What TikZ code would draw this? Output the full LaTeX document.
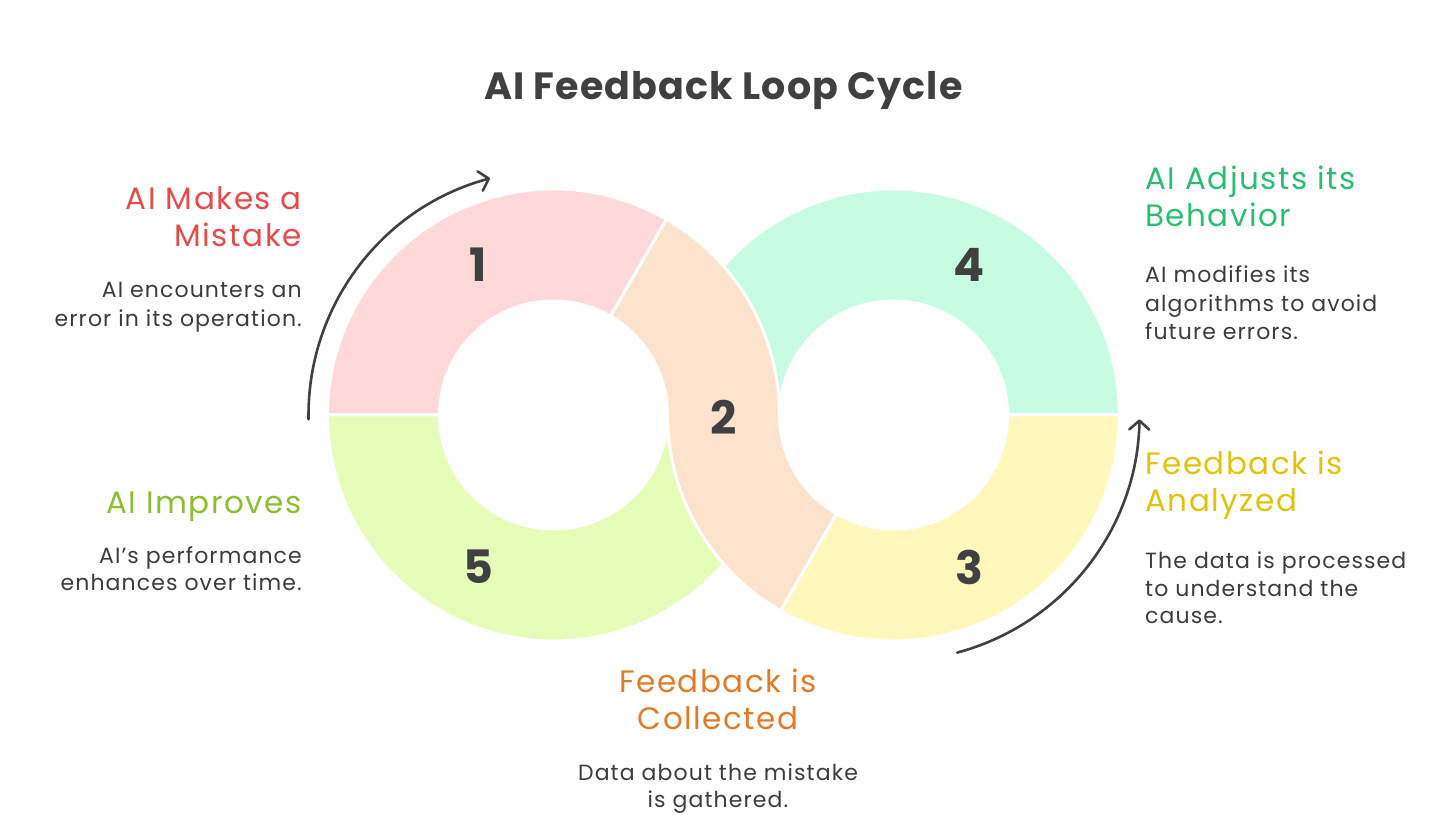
\documentclass[tikz,border=0pt]{standalone}
\usepackage{fontspec}
\setmainfont{Poppins}
\usetikzlibrary{arrows.meta,calc}
\definecolor{pk}{RGB}{255,217,217}
\definecolor{pe}{RGB}{253,226,204}
\definecolor{mi}{RGB}{199,252,227}
\definecolor{ye}{RGB}{255,247,187}
\definecolor{li}{RGB}{230,252,185}
\definecolor{tred}{RGB}{228,76,76}
\definecolor{tgreen}{RGB}{44,190,112}
\definecolor{tlime}{RGB}{140,190,50}
\definecolor{tyel}{RGB}{222,196,12}
\definecolor{torange}{RGB}{224,124,40}
\definecolor{bodyc}{RGB}{60,60,60}
\definecolor{darkc}{RGB}{64,64,64}
\begin{document}
\begin{tikzpicture}[x=1pt,y=1pt,
  seg/.style={draw=white, line width=3pt, line join=round},
  arr/.style={draw=darkc, line width=2.6pt, line cap=round, -{Straight Barb[length=9pt,width=20pt,round]}},
  ttl/.style={font=\bfseries\fontsize{38}{42}\selectfont\addfontfeatures{LetterSpace=3}, text=darkc, inner sep=0pt, anchor=base},
  hd/.style={font=\fontsize{31}{36}\selectfont\addfontfeatures{LetterSpace=5}, inner sep=0pt},
  bd/.style={font=\fontsize{22}{28}\selectfont\addfontfeatures{LetterSpace=5}, text=bodyc, inner sep=0pt},
  num/.style={font=\bfseries\fontsize{46}{50}\selectfont, text=darkc, inner sep=0pt}]
\useasboundingbox (0,0) rectangle (1456,839);
\coordinate (L) at (553.5,424);
\coordinate (R) at (893.5,424);
% segment 1
\path[seg, fill=pk] ($(L)+(60:114)$) -- ($(L)+(60:226)$) arc[start angle=60, end angle=180, radius=226pt]
  -- ($(L)+(180:114)$) arc[start angle=180, end angle=60, radius=114pt] -- cycle;
% segment 5
\path[seg, fill=li] ($(L)+(180:226)$) arc[start angle=180, end angle=360, radius=226pt]
  -- ($(L)+(0:114)$) arc[start angle=360, end angle=180, radius=114pt] -- cycle;
% segment 4
\path[seg, fill=mi] ($(R)+(0:226)$) arc[start angle=0, end angle=180, radius=226pt]
  -- ($(R)+(180:114)$) arc[start angle=180, end angle=0, radius=114pt] -- cycle;
% segment 3
\path[seg, fill=ye] ($(R)+(240:226)$) arc[start angle=240, end angle=360, radius=226pt]
  -- ($(R)+(0:114)$) arc[start angle=360, end angle=240, radius=114pt] -- cycle;
% segment 2
\path[seg, fill=pe] ($(L)+(60:114)$) arc[start angle=60, end angle=0, radius=114pt]
  arc[start angle=180, end angle=240, radius=226pt]
  -- ($(R)+(240:114)$) arc[start angle=240, end angle=180, radius=114pt]
  arc[start angle=0, end angle=60, radius=226pt] -- cycle;
% arrows
\draw[arr] ($(L)+(181:245)$) arc[start angle=181, end angle=105, radius=245pt];
\draw[arr] ($(R)+(-75:246)$) arc[start angle=-75, end angle=-1, radius=246pt];
% numbers
\node[num] (n1) at (478,574) {1};
\node[num] (n2) at (724,422) {2};
\node[num] (n3) at (969,272) {3};
\node[num] (n4) at (969,574) {4};
\node[num] (n5) at (478,272) {5};
% title
\node[ttl] (title) at (723.5,739) {AI Feedback Loop Cycle};
% step 1
\node[hd, text=tred, anchor=base east] (h1a) at (302,629) {AI Makes a};
\node[hd, text=tred, anchor=base east] (h1b) at (302,592) {Mistake};
\node[bd, anchor=base east] (b1a) at (302,541) {AI encounters an};
\node[bd, anchor=base east] (b1b) at (302,512) {error in its operation.};
% step 5
\node[hd, text=tlime, anchor=base east] (h5a) at (302,326) {AI Improves};
\node[bd, anchor=base east] (b5a) at (302,276) {AI{\char"27}s performance};
\node[bd, anchor=base east] (b5b) at (302,249) {enhances over time.};
% step 4
\node[hd, text=tgreen, anchor=base west] (h4a) at (1145,649) {AI Adjusts its};
\node[hd, text=tgreen, anchor=base west] (h4b) at (1145,612) {Behavior};
\node[bd, anchor=base west] (b4a) at (1145,556) {AI modifies its};
\node[bd, anchor=base west] (b4b) at (1145,527) {algorithms to avoid};
\node[bd, anchor=base west] (b4c) at (1145,499) {future errors.};
% step 3
\node[hd, text=tyel, anchor=base west] (h3a) at (1145,364) {Feedback is};
\node[hd, text=tyel, anchor=base west] (h3b) at (1145,327) {Analyzed};
\node[bd, anchor=base west] (b3a) at (1145,271) {The data is processed};
\node[bd, anchor=base west] (b3b) at (1145,243) {to understand the};
\node[bd, anchor=base west] (b3c) at (1145,216) {cause.};
% step 2
\node[hd, text=torange, anchor=base] (h2a) at (718,147) {Feedback is};
\node[hd, text=torange, anchor=base] (h2b) at (718,110) {Collected};
\node[bd, anchor=base] (b2a) at (718,59) {Data about the mistake};
\node[bd, anchor=base] (b2b) at (718,32) {is gathered.};
\end{tikzpicture}
\end{document}
